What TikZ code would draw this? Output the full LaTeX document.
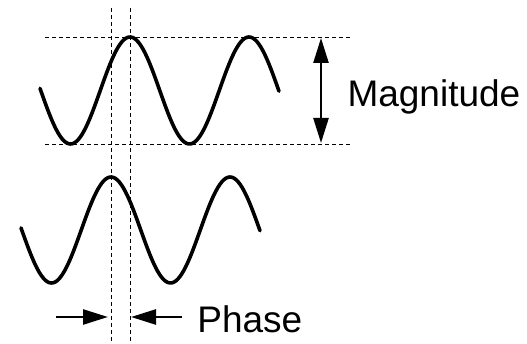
\documentclass[tikz,border=0pt]{standalone}
\usepackage{fontspec}
\setmainfont{Liberation Sans}
\usetikzlibrary{arrows.meta}
\tikzset{
  wave/.style={line width=3.6pt, line join=round, line cap=round},
  guide/.style={line width=0.9pt, dash pattern=on 4pt off 3pt},
  dimarrow/.style={line width=2.5pt, -{Triangle[length=25pt,width=15pt]}},
  dimarrows/.style={line width=2.5pt, {Triangle[length=25pt,width=15pt]}-{Triangle[length=25pt,width=15pt]}},
  lbl/.style={inner sep=0pt, font=\fontsize{37}{40}\selectfont}
}
\begin{document}
\begin{tikzpicture}[x=1pt,y=-1pt]
\useasboundingbox (0,0) rectangle (527,344);
% guides
\coordinate (hl1) at (45,37);  \coordinate (hr1) at (350,37);
\coordinate (hl2) at (45,144); \coordinate (hr2) at (350,144);
\coordinate (v1t) at (111,8); \coordinate (v1b) at (111,344);
\coordinate (v2t) at (130,8); \coordinate (v2b) at (130,344);
\draw[guide] (hl1) -- (hr1);
\draw[guide] (hl2) -- (hr2);
\draw[guide] (v1t) -- (v1b);
\draw[guide] (v2t) -- (v2b);
% waves
\draw[wave] plot[domain=40:279, samples=120, smooth] (\x, {90.5-53.5*cos(3.02521*(\x-130))});
\draw[wave] plot[domain=21:260, samples=120, smooth] (\x, {230-53*cos(3.02521*(\x-111))});
% magnitude
\coordinate (mt) at (321,38);
\coordinate (mb) at (321,143);
\draw[dimarrows] (mt) -- (mb);
\node[lbl, anchor=base west] (mag) at (347.3,107) {Magnitude};
% phase
\coordinate (pl) at (56,317);  \coordinate (plt) at (108,317);
\coordinate (pr) at (182,317); \coordinate (prt) at (131,317);
\draw[dimarrow] (pl) -- (plt);
\draw[dimarrow] (pr) -- (prt);
\node[lbl, anchor=base west] (phase) at (197.2,332) {Phase};
\end{tikzpicture}
\end{document}
